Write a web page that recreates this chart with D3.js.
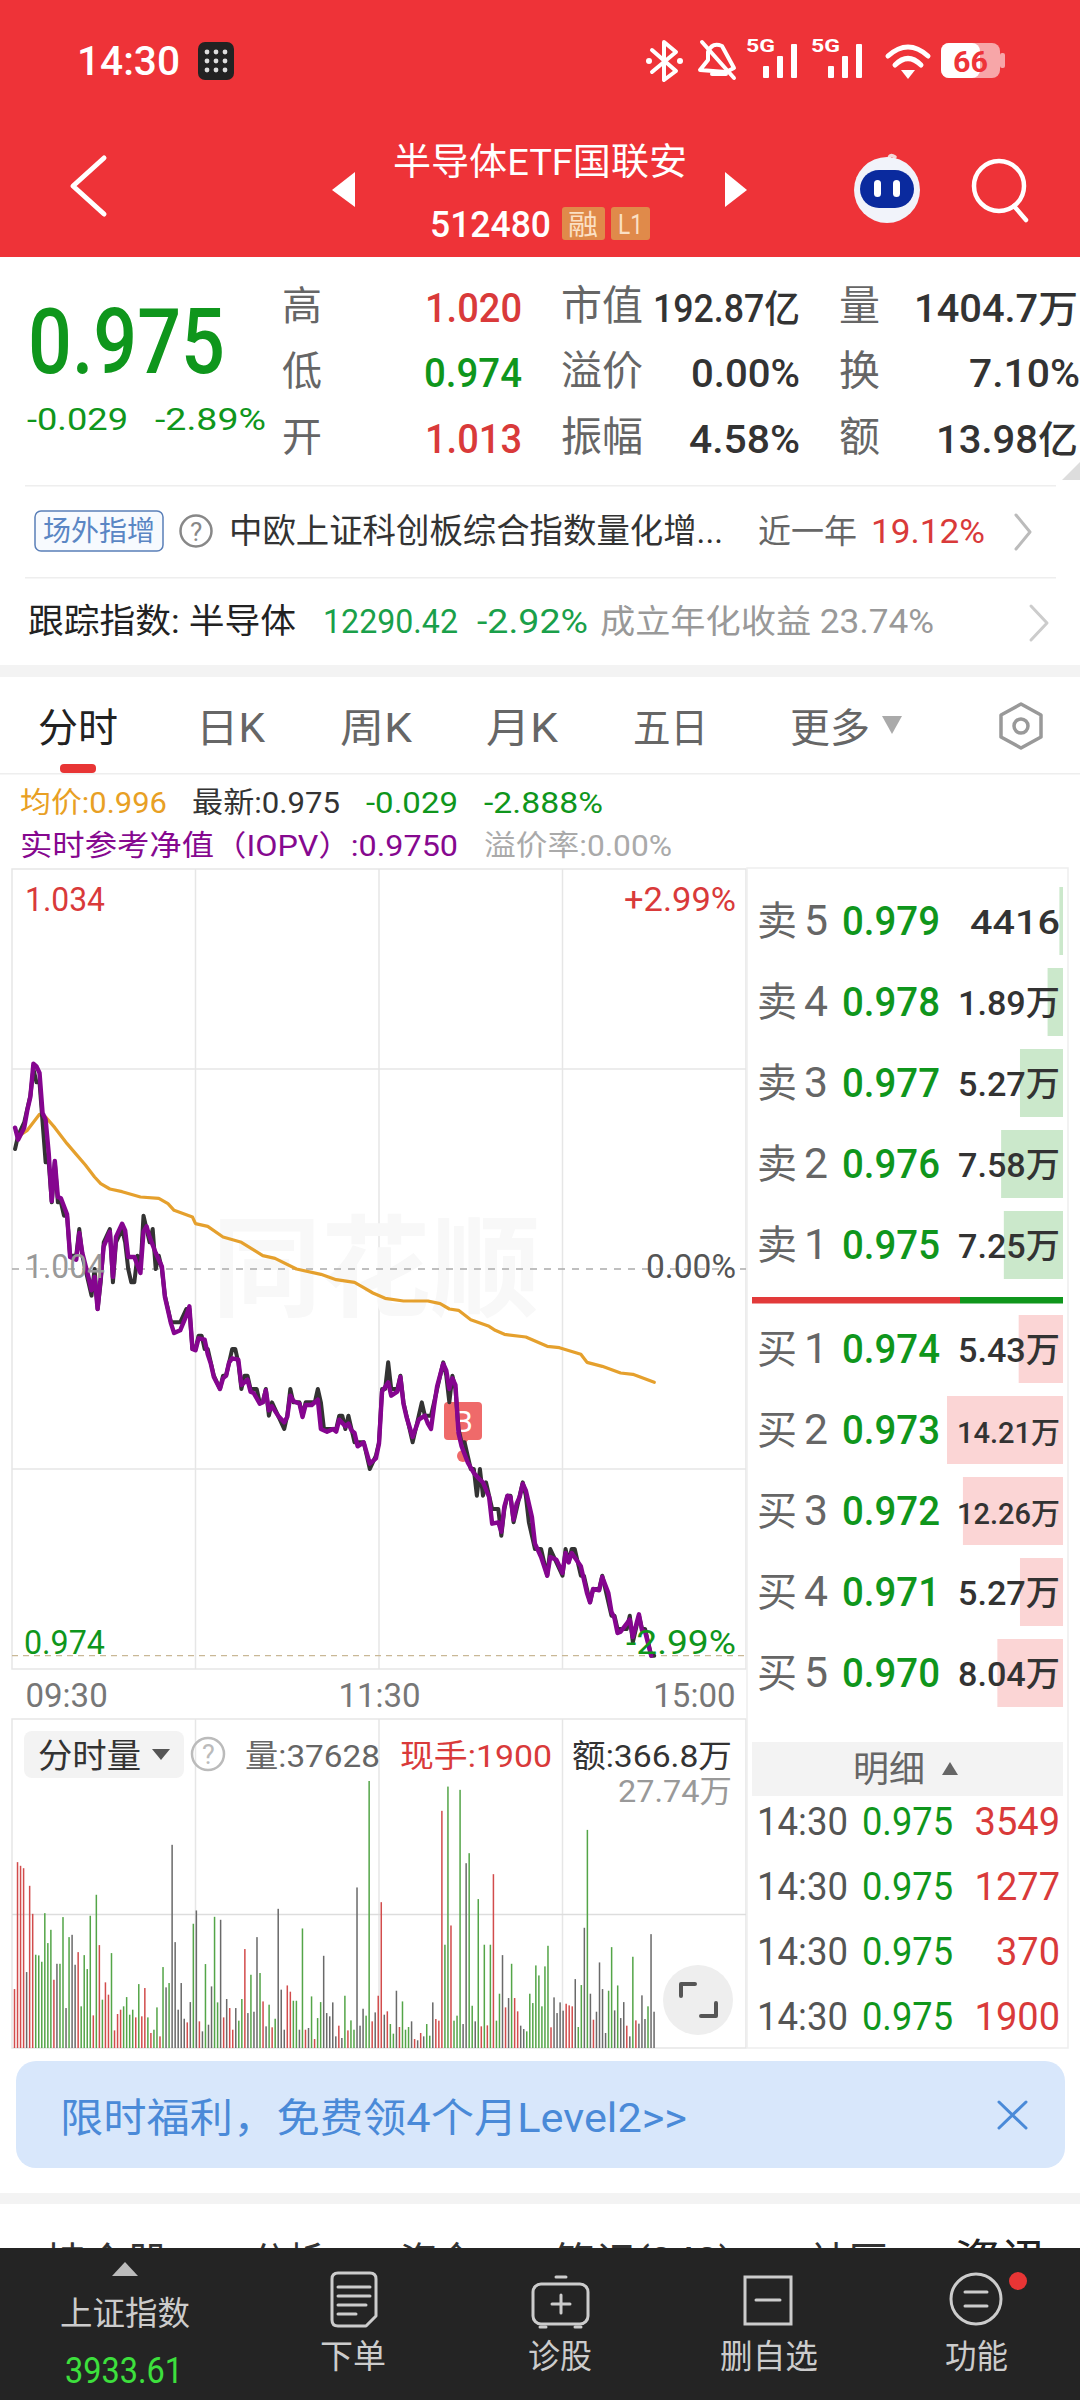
<!DOCTYPE html>
<html>
<head>
<meta charset="utf-8">
<script src="https://d3js.org/d3.v7.min.js"></script>
<style>
	html, body { margin: 0; padding: 0; background: #fff; }
	svg { display: block; }
	text { font-family: Roboto, "Noto Sans CJK SC", sans-serif; }
</style>
</head>
<body>
<svg id="chart" width="1080" height="2400"></svg>
<script>
// price line (minute since open, price)
const priceMin = [1,2,4,5,6,7,8,9,10,11,12,13,14,15,16,17,18,19,21,22,23,25,26,27,28,29,30,32,33,34,36,37,38,39,40,41,42,43,44,45,46,47,48,49,50,51,52,55,57,58,59,60,61,62,63,64,65,66,68,69,70,71,72,73,74,75,76,77,78,79,80,81,82,83,84,85,87,89,90,91,92,94,95,96,98,99,100,101,102,103,105,106,107,108,109,110,111,112,113,115,116,117,119,120,121,122,123,124,125,126,127,128,129,131,133,134,135,137,138,139,141,142,143,144,145,146,147,148,149,150,151,152,153,154,155,157,158,159,160,161,162,163,164,165,166,167,168,169,171,173,175,176,178,180,181,182,183,184,186,187,189,190,192,193,195,196,197,198,199,201,202,203,205,206,207,209,210];
const priceVal = [1.013,1.014,1.015,1.016,1.017,1.019,1.018,1.018,1.015,1.012,1.012,1.009,1.012,1.009,1.009,1.008,1.008,1.005,1.005,1.007,1.005,1.003,1.002,1.004,1.001,1.003,1.006,1.007,1.003,1.006,1.007,1.006,1.004,1.003,1.003,1.005,1.004,1.008,1.007,1.006,1.007,1.004,1.005,1.004,1.002,1.001,1.000,1.000,1.001,1.001,0.998,0.998,0.999,0.999,0.998,0.998,0.997,0.996,0.995,0.996,0.996,0.997,0.998,0.998,0.997,0.995,0.996,0.996,0.995,0.995,0.995,0.994,0.994,0.995,0.993,0.994,0.993,0.992,0.993,0.995,0.994,0.994,0.993,0.994,0.994,0.994,0.995,0.994,0.992,0.992,0.992,0.992,0.993,0.993,0.992,0.993,0.992,0.991,0.991,0.991,0.990,0.989,0.990,0.991,0.995,0.995,0.997,0.995,0.995,0.995,0.996,0.994,0.993,0.991,0.993,0.994,0.993,0.993,0.994,0.995,0.997,0.996,0.994,0.996,0.995,0.992,0.991,0.991,0.990,0.989,0.989,0.987,0.989,0.987,0.988,0.986,0.986,0.986,0.984,0.986,0.987,0.987,0.985,0.986,0.987,0.988,0.987,0.985,0.983,0.983,0.981,0.983,0.982,0.981,0.983,0.982,0.983,0.983,0.981,0.981,0.979,0.980,0.980,0.981,0.979,0.978,0.978,0.977,0.977,0.977,0.978,0.976,0.978,0.977,0.977,0.975,0.975];

// IOPV line
const iopvMin = [1,2,4,5,6,7,8,9,10,11,12,13,14,15,16,18,19,21,22,23,25,26,27,28,29,30,32,33,34,36,37,38,40,42,43,44,45,47,49,50,52,53,55,57,58,59,60,61,63,64,65,66,68,69,70,71,72,74,75,77,78,79,81,82,83,84,85,87,89,90,91,92,94,95,96,98,100,101,103,105,106,107,109,110,111,112,113,115,116,117,119,120,121,123,124,126,127,128,129,131,133,135,136,137,138,139,141,142,143,144,145,146,147,149,151,153,154,156,157,159,160,161,162,163,164,165,166,167,168,170,171,173,175,176,178,180,181,182,183,186,188,189,190,192,193,195,196,197,198,199,202,203,205,206,207,209];
const iopvVal = [1.0146,1.0137,1.0146,1.0159,1.0169,1.0194,1.0192,1.0187,1.0157,1.0152,1.0127,1.0091,1.0121,1.0094,1.0093,1.0081,1.0049,1.0047,1.0067,1.0052,1.0034,1.0024,1.0034,1.0010,1.0034,1.0057,1.0068,1.0034,1.0064,1.0074,1.0069,1.0049,1.0049,1.0037,1.0068,1.0072,1.0064,1.0052,1.0042,1.0019,0.9999,0.9992,0.9994,1.0005,1.0012,0.9980,0.9979,0.9988,0.9987,0.9976,0.9969,0.9959,0.9950,0.9958,0.9960,0.9970,0.9973,0.9972,0.9953,0.9957,0.9948,0.9947,0.9939,0.9940,0.9949,0.9934,0.9937,0.9930,0.9925,0.9929,0.9945,0.9941,0.9939,0.9929,0.9938,0.9938,0.9942,0.9920,0.9918,0.9920,0.9918,0.9927,0.9922,0.9924,0.9919,0.9917,0.9907,0.9910,0.9902,0.9894,0.9898,0.9909,0.9948,0.9955,0.9945,0.9948,0.9959,0.9939,0.9929,0.9914,0.9927,0.9930,0.9924,0.9920,0.9937,0.9952,0.9969,0.9964,0.9950,0.9958,0.9953,0.9917,0.9907,0.9895,0.9887,0.9882,0.9880,0.9869,0.9849,0.9850,0.9843,0.9862,0.9870,0.9869,0.9852,0.9864,0.9869,0.9879,0.9874,0.9854,0.9834,0.9824,0.9810,0.9824,0.9822,0.9812,0.9827,0.9820,0.9827,0.9817,0.9797,0.9790,0.9800,0.9799,0.9809,0.9797,0.9783,0.9778,0.9767,0.9768,0.9777,0.9764,0.9781,0.9769,0.9768,0.9750];

// average price line
const avgMin = [3,5,9,11,14,17,18,21,24,26,27,29,32,36,42,48,51,53,59,60,64,69,75,82,86,93,101,106,112,115,118,122,128,136,140,143,146,150,156,158,161,168,175,179,186,188,193,199,203,210];
const avgVal = [1.0141,1.0144,1.0156,1.0154,1.0146,1.0137,1.0134,1.0126,1.0118,1.0112,1.0109,1.0104,1.0100,1.0098,1.0094,1.0093,1.0089,1.0084,1.0079,1.0074,1.0072,1.0064,1.0060,1.0050,1.0048,1.0040,1.0036,1.0032,1.0030,1.0026,1.0022,1.0018,1.0016,1.0016,1.0014,1.0010,1.0009,1.0002,0.9997,0.9994,0.9991,0.9989,0.9982,0.9981,0.9976,0.9970,0.9967,0.9962,0.9961,0.9955];

// volume per minute, in 万
const volumes = [
	6.12,19.31,18.93,18.68,7.89,16.85,13.94,9.69,9.62,8.96,
	14.01,10.90,12.28,7.09,8.75,8.75,13.60,4.15,11.52,11.76,
	8.65,9.96,4.33,9.65,8.20,13.74,3.39,15.92,10.69,5.02,
	6.82,5.54,9.86,1.83,3.53,3.98,4.33,5.29,3.46,3.98,
	3.18,6.64,3.29,6.23,3.18,1.56,1.90,4.22,1.21,8.41,
	6.30,6.75,21.11,11.00,3.98,6.75,3.04,2.66,4.77,12.91,
	14.29,2.77,1.73,8.72,2.42,6.40,13.63,4.74,13.32,3.18,
	5.09,4.15,1.90,4.15,2.84,5.09,10.28,3.63,7.61,3.77,
	11.52,7.79,4.84,2.25,4.50,2.15,3.04,14.46,6.06,1.90,
	6.50,5.85,4.91,4.91,1.90,12.42,1.90,2.08,5.36,0.93,
	3.11,4.77,9.58,3.63,3.29,4.74,1.21,2.32,1.04,5.43,
	1.83,2.87,1.90,16.68,2.32,4.08,3.36,27.74,2.77,3.70,
	5.43,15.15,3.46,3.81,2.49,1.49,5.95,2.18,4.84,1.90,
	2.18,2.77,0.93,0.80,1.56,1.21,2.49,1.28,4.74,3.01,
	2.84,24.64,10.73,27.16,12.73,2.84,3.36,26.82,2.49,19.20,
	20.24,4.39,2.77,15.47,2.25,10.73,2.35,10.73,18.06,2.84,
	5.64,9.65,4.22,5.19,8.75,5.19,3.81,2.32,1.97,1.73,
	5.64,4.67,8.58,7.54,4.33,8.48,10.62,2.15,5.26,3.63,
	4.74,3.88,4.60,4.43,4.33,7.16,2.18,6.54,12.49,22.66,
	5.64,2.94,3.77,8.89,6.12,1.56,5.95,10.48,3.91,6.50,
	3.11,4.77,2.32,1.21,9.48,2.87,2.53,5.47,3.01,4.33,
	11.83,3.77
];
// u = up, d = down, f = flat, same order as volumes
const volumeDirs = (
	"uuuufuuddd"+"dddufddfdf"+"fuddddudud"+"uuduuudddd"+
	"uduududdud"+"fdfffffufd"+"fufdffddfu"+"fuufddufdf"+
	"fdufdudfff"+"uuddfdufdu"+"ddfffffufd"+"uddfffdduf"+
	"uufuddfudd"+"dfufufddfu"+"uuddudddff"+"ddfdududud"+
	"dfufduuffd"+"ddddddduff"+"ffuuufddfd"+"fuffffddfd"+
	"ffufdufffd"+"ff"
).split("");

const timeLabels = ["09:30","11:30","15:00"];
const timeTicks = [0,120,240];
const priceTicks = [1.034,1.019,1.004,0.989,0.974];
const lastPrice = 0.975;
const peakVolume = 27.74;

// order book
const levels = [5,4,3,2,1];
const askPrices = [0.979,0.978,0.977,0.976,0.975];
const askVols = [0.4416,1.89,5.27,7.58,7.25];
const askLabels = ["4416","1.89万","5.27万","7.58万","7.25万"];
const bidLevels = [1,2,3,4,5];
const bidPrices = [0.974,0.973,0.972,0.971,0.970];
const bidVols = [5.43,14.21,12.26,5.27,8.04];
const bidLabels = ["5.43万","14.21万","12.26万","5.27万","8.04万"];

const tradeVols = [3549,1277,370,1900];

const RED = "#d93a3a", GREEN = "#0f961c", GRID = "#e6e6e6";

const svg = d3.select("#chart");

const x = d3.scaleLinear().domain([0,240]).range([12,746]);
const xBar = d3.scaleLinear().domain([0,241]).range([14.5,745]);
const y = d3.scaleLinear().domain([0.974,1.034]).range([1669,869]);
const yVol = d3.scaleLinear().domain([0,peakVolume]).range([2048,1781]);
const bookW = d3.scaleLinear().domain([0,14.21]).range([0,116]);
const askY = d3.scaleLinear().domain([0,4]).range([921,1245]);
const bidY = d3.scaleLinear().domain([0,4]).range([1349,1673]);

// text helper. x1 start, x2 (optional) end the text is stretched to
function t(str, x1, x2, base, size, fill, opts) {
	opts = opts || {};
	var n = svg.append("text").attr("x",x1).attr("y",base)
		.attr("font-size",size).attr("fill",fill).text(str);
	if(opts.weight) n.attr("font-weight",opts.weight);
	if(opts.anchor) n.attr("text-anchor",opts.anchor);
	if(x2 != null) n.attr("textLength",x2-x1).attr("lengthAdjust","spacingAndGlyphs");
	return n;
}
function rect(x1,y1,x2,y2,fill,r) {
	return svg.append("rect").attr("x",x1).attr("y",y1).attr("width",x2-x1).attr("height",y2-y1)
		.attr("fill",fill).attr("rx",r||0);
}
function path(d,stroke,w,fill) {
	return svg.append("path").attr("d",d).attr("stroke",stroke||"none").attr("stroke-width",w||0)
		.attr("fill",fill||"none").attr("stroke-linecap","round").attr("stroke-linejoin","round");
}

///////////////////////////
// Red header
///////////////////////////
rect(0,0,1080,257,"#ee3338");
t("14:30",77,180,75,41,"#fff",{weight:500});
rect(198,42,234,80,"#222",7);
[0,1,2].forEach(function(i){ [0,1,2].forEach(function(j){
	svg.append("circle").attr("cx",207+j*9).attr("cy",52+i*9).attr("r",2.4).attr("fill","#ddd");
}); });
// bluetooth
path("M652 50 L676 71 L664 80 L664 42 L676 52 L652 72","#fff",4);
svg.append("circle").attr("cx",649).attr("cy",61).attr("r",3).attr("fill","#fff");
svg.append("circle").attr("cx",680).attr("cy",61).attr("r",3).attr("fill","#fff");
// muted bell
path("M700 70 L708 60 L708 52 Q712 42 722 46 L734 68 L726 72 Z","#fff",4);
path("M702 42 L734 78","#fff",4);
path("M712 74 L726 74","#fff",4);
// 5G signal x2
[[746,0],[811,0]].forEach(function(o){
	t("5G",o[0],o[0]+29,52,19,"#fff",{weight:700});
	[0,1,2].forEach(function(i){
		rect(o[0]+17+i*14,[66,56,44][i],o[0]+23+i*14,78,"#fff",1);
	});
});
// wifi
path("M888 56 Q908 38 928 56","#fff",5);
path("M895 65 Q908 52 921 65","#fff",5);
svg.append("path").attr("d","M901 70 L915 70 L908 79 Z").attr("fill","#fff");
// battery
rect(941,43,1000,78,"#f7a6a8",8);
rect(941,43,980,78,"#fff",8);
rect(1000,53,1005,68,"#f7a6a8",2);
t("66",953,988,72,30,"#ee3338",{weight:700});

path("M104 158 L73 186 L104 214","#fff",5);
svg.append("path").attr("d","M355 172 L332 190 L355 207 Z").attr("fill","#fff");
svg.append("path").attr("d","M725 172 L747 190 L725 207 Z").attr("fill","#fff");
t("半导体ETF国联安",393,687,175,37,"#fff");
t("512480",430,551,237,36,"#fff",{weight:500});
rect(562,207,605,240,"#e08a4a",3);
t("融",568,598,235,28,"#fbe0c4");
rect(611,207,650,240,"#e08a4a",3);
t("L1",618,643,234,28,"#fbe0c4");
// robot
path("M889 160 Q889 153 895 157","#f3d9d9",3.5);
svg.append("circle").attr("cx",887).attr("cy",190).attr("r",33).attr("fill","#f1f3fa");
rect(860,170,914,208,"#0a2a9e",19);
rect(874,180,881,197,"#fff",3.5);
rect(893,180,900,197,"#fff",3.5);
// search
svg.append("circle").attr("cx",999).attr("cy",186).attr("r",25).attr("fill","none").attr("stroke","#fff").attr("stroke-width",4.5);
path("M1014 206 L1026 220","#fff",4.5);

///////////////////////////
// Quote summary
///////////////////////////
t("0.975",28,225,373,90,GREEN,{weight:500});
t("-0.029",27,128,430,31,GREEN);
t("-2.89%",155,266,430,31,GREEN);
var sumRows = [320,385,451];
["高","低","开"].forEach(function(s,i){ t(s,282,null,sumRows[i],40,"#666"); });
t("1.020",425,522,322,40,RED,{weight:500});
t("0.974",424,522,387,40,GREEN,{weight:500});
t("1.013",425,522,453,40,RED,{weight:500});
["市值","溢价","振幅"].forEach(function(s,i){ t(s,561,null,sumRows[i],41,"#666"); });
t("192.87亿",653,800,322,38,"#333",{weight:500});
t("0.00%",691,800,387,38,"#333",{weight:500});
t("4.58%",689,800,453,38,"#333",{weight:500});
["量","换","额"].forEach(function(s,i){ t(s,839,null,sumRows[i],41,"#666"); });
t("1404.7万",914,1078,322,38,"#333",{weight:500});
t("7.10%",969,1080,387,38,"#333",{weight:500});
t("13.98亿",936,1078,453,38,"#333",{weight:500});
svg.append("path").attr("d","M1080 462 L1080 480 L1062 480 Z").attr("fill","#ddd");

rect(25,485,1056,486.5,"#eee");
svg.append("rect").attr("x",35).attr("y",511).attr("width",128).attr("height",40).attr("rx",6)
	.attr("fill","#f7fafe").attr("stroke","#5a7fb8").attr("stroke-width",1.5);
t("场外指增",43,155,541,28,"#5a86c4");
svg.append("circle").attr("cx",196).attr("cy",531).attr("r",15.5).attr("fill","none").attr("stroke","#888").attr("stroke-width",2.5);
t("?",190,null,541,26,"#888");
t("中欧上证科创板综合指数量化增...",229,723,543,34,"#333");
t("近一年",758,857,543,33,"#666");
t("19.12%",871,985,543,34,RED);
path("M1016 515 L1030 532 L1016 549","#bbb",3);

rect(25,577,1056,578.5,"#eee");
t("跟踪指数: 半导体",28,296,633,34,"#222");
t("12290.42",323,458,633,33,"#1aa04a");
t("-2.92%",477,588,633,33,"#1aa04a");
t("成立年化收益 23.74%",600,934,633,33,"#999");
path("M1031 606 L1047 623 L1031 640","#ccc",3);
rect(0,665,1080,677,"#f3f3f3");

///////////////////////////
// Tabs
///////////////////////////
t("分时",38,118,742,40,"#222");
t("日K",196,265,742,40,"#666");
t("周K",340,412,742,40,"#666");
t("月K",486,558,742,40,"#666");
t("五日",633,708,742,40,"#666");
t("更多",790,870,742,40,"#666");
svg.append("path").attr("d","M882 716 L902 716 L892 734 Z").attr("fill","#aaa");
path("M1021 704 L1041 715 L1041 737 L1021 748 L1001 737 L1001 715 Z","#999",3.5);
svg.append("circle").attr("cx",1021).attr("cy",726).attr("r",7).attr("fill","none").attr("stroke","#999").attr("stroke-width",3.5);
rect(60,764,96,773,"#e83535",4);
rect(0,773,1080,774.5,"#eee");

t("均价:0.996",20,167,813,29,"#e8a024");
t("最新:0.975",192,340,813,29,"#333");
t("-0.029",366,458,813,29,GREEN);
t("-2.888%",484,603,813,29,GREEN);
t("实时参考净值（IOPV）:0.9750",20,458,856,29,"#86088f");
t("溢价率:0.00%",484,672,856,29,"#aaa");

///////////////////////////
// Price panel
///////////////////////////
var frame = svg.append("g").attr("fill","none").attr("stroke",GRID).attr("stroke-width",1.5);
frame.append("rect").attr("x",x(0)).attr("y",y(1.034)).attr("width",x(240)-x(0)).attr("height",y(0.974)-y(1.034));
frame.selectAll("line.v").data([60,120,180]).enter().append("line")
	.attr("x1",d=>x(d)).attr("x2",d=>x(d)).attr("y1",y(1.034)).attr("y2",y(0.974));
frame.selectAll("line.h").data([priceTicks[1],priceTicks[3]]).enter().append("line")
	.attr("x1",x(0)).attr("x2",x(240)).attr("y1",d=>y(d)).attr("y2",d=>y(d));

t("同花顺",212,540,1308,110,"#f8f8f8",{weight:700});

svg.append("line").attr("x1",x(0)).attr("x2",x(240)).attr("y1",y(1.004)).attr("y2",y(1.004))
	.attr("stroke","#aaa").attr("stroke-width",1.5).attr("stroke-dasharray","7 7");
svg.append("line").attr("x1",x(0)).attr("x2",x(240)).attr("y1",y(lastPrice)).attr("y2",y(lastPrice))
	.attr("stroke","#c9b896").attr("stroke-width",1.2).attr("stroke-dasharray","6 5");

// B marker sits under the lines
rect(444,1402,482,1440,"#ef6a6a",4);
svg.append("path").attr("d","M458 1440 L468 1440 L463 1447 Z").attr("fill","#ef6a6a");
svg.append("circle").attr("cx",463).attr("cy",1456).attr("r",6).attr("fill","#ef6a6a");
t("B",454,null,1432,30,"#fff");

var toLine = d3.line().x(d=>x(d[0])).y(d=>y(d[1]));
function drawLine(mins,vals,color,width) {
	svg.append("path").datum(d3.zip(mins,vals)).attr("d",toLine)
		.attr("fill","none").attr("stroke",color).attr("stroke-width",width)
		.attr("stroke-linejoin","round").attr("stroke-linecap","round");
}
drawLine(avgMin,avgVal,"#e5a02d",3.2);
drawLine(priceMin,priceVal,"#333333",4);
drawLine(iopvMin,iopvVal,"#85058f",4.4);

t("1.034",25,105,y(priceTicks[0])+42,34,RED);
t("+2.99%",624,736,y(priceTicks[0])+42,34,RED);
t("1.004",25,105,y(priceTicks[2])+9,34,"#999");
t("0.00%",646,736,y(priceTicks[2])+9,34,"#555");
t("0.974",24,105,y(priceTicks[4])-15,34,GREEN);
t("-2.99%",626,736,y(priceTicks[4])-15,34,GREEN);

// time axis
var axis = svg.append("g").attr("transform","translate(0,"+y(0.974)+")")
	.call(d3.axisBottom(x).tickValues(timeTicks).tickFormat((d,i)=>timeLabels[i]).tickSize(0).tickPadding(11));
axis.select(".domain").remove();
axis.selectAll("text").attr("font-size",33).attr("fill","#777").attr("font-family",'Roboto, "Noto Sans CJK SC"')
	.attr("dy",null)
	.attr("text-anchor",(d,i)=>["start","middle","end"][i])
	.attr("dx",(d,i)=>[13,0,-11][i])
	.attr("y",38);

///////////////////////////
// Volume panel
///////////////////////////
var frame2 = svg.append("g").attr("fill","none").attr("stroke",GRID).attr("stroke-width",1.5);
frame2.append("rect").attr("x",x(0)).attr("y",1719).attr("width",x(240)-x(0)).attr("height",yVol(0)-1719);
frame2.selectAll("line.v").data([60,120,180]).enter().append("line")
	.attr("x1",d=>x(d)).attr("x2",d=>x(d)).attr("y1",1719).attr("y2",yVol(0));
frame2.append("line").attr("x1",x(0)).attr("x2",x(240)).attr("y1",yVol(peakVolume/2)).attr("y2",yVol(peakVolume/2)).attr("stroke","#ddd");

var volColor = {u:"#d24c4c",d:"#54a548",f:"#6a6a6a"};
svg.append("g").selectAll("rect").data(volumes).enter().append("rect")
	.attr("x",(d,i)=>xBar(i)-0.75).attr("width",1.5)
	.attr("y",d=>yVol(d)).attr("height",d=>yVol(0)-yVol(d))
	.attr("fill",(d,i)=>volColor[volumeDirs[i]]);

rect(24,1731,184,1778,"#f3f3f3",8);
t("分时量",38,141,1768,34,"#333");
svg.append("path").attr("d","M152 1749 L170 1749 L161 1760 Z").attr("fill","#555");
svg.append("circle").attr("cx",208).attr("cy",1754).attr("r",16).attr("fill","none").attr("stroke","#bbb").attr("stroke-width",2.5);
t("?",202,null,1764,27,"#bbb");
t("量:37628",245,380,1767,32,"#666");
t("现手:1900",400,552,1767,32,RED);
t("额:366.8万",572,732,1767,32,"#333");
t("27.74万",618,732,1802,31,"#999");

svg.append("circle").attr("cx",698).attr("cy",2000).attr("r",35).attr("fill","#eee");
path("M681 1996 L681 1984 L695 1984","#555",4);
path("M716 2003 L716 2016 L701 2016","#555",4);

///////////////////////////
// Order book
///////////////////////////
svg.append("g").attr("fill","none").attr("stroke","#eee").attr("stroke-width",1.5)
	.append("path").attr("d","M747 868 L1068 868 L1068 2048 L747 2048 Z");

function bookRows(rowY,names,nums,prices,vols,labels,barColor) {
	prices.forEach(function(p,i){
		var cy = rowY(i);
		rect(1063-bookW(vols[i]),cy-34,1063,cy+34,barColor);
		t(names,757,797,cy+14,40,"#666");
		t(nums[i],804,828,cy+14,42,"#666");
		t(p.toFixed(3),842,940,cy+14,40,GREEN,{weight:500});
		var lab = labels[i];
		var left = lab.length > 5 ? 957 : (lab.length == 4 ? 970 : 958);
		t(lab,left,1060,cy+13,lab.length > 5 ? 30 : 34,"#333",{weight:500});
	});
}
bookRows(askY,"卖",levels,askPrices,askVols,askLabels,"#cbe8cb");
rect(752,1297,960,1303.5,"#e23a3a");
rect(960,1297,1063,1303.5,"#0f961c");
bookRows(bidY,"买",bidLevels,bidPrices,bidVols,bidLabels,"#fbd5d5");

rect(752,1742,1063,1796,"#f3f3f3");
t("明细",853,925,1782,36,"#666");
svg.append("path").attr("d","M950 1762 L958 1775 L942 1775 Z").attr("fill","#666");
tradeVols.forEach(function(v,i){
	var base = 1835+i*65;
	t("14:30",757,848,base,38,"#555");
	t("0.975",862,953,base,38,GREEN);
	t(v,1060,null,base,38,RED,{anchor:"end"});
});

///////////////////////////
// Banner and bottom bar
///////////////////////////
rect(16,2061,1065,2168,"#d8e7fb",20);
t("限时福利，免费领4个月Level2>>",60,687,2132,40,"#4a8ad8");
path("M999 2102 L1026 2128 M1026 2102 L999 2128","#4a8ad8",3);
rect(0,2193,1080,2204,"#f3f3f3");

// tab row clipped by the dark bar
t("持仓股",45,169,2276,40,"#333");
t("分析",251,324,2276,40,"#333");
t("资金",400,475,2276,40,"#333");
t("笔记(242)",554,733,2276,40,"#333");
t("社区",809,888,2276,40,"#333");
t("资讯",954,1047,2276,44,"#222");

rect(0,2248,1080,2400,"#242424");
svg.append("path").attr("d","M125 2262 L138 2276 L112 2276 Z").attr("fill","#bbb");
t("上证指数",60,190,2325,33,"#ccc");
t("3933.61",65,183,2383,36,"#3de03d");
t("下单",320,386,2368,33,"#ccc");
t("诊股",528,592,2368,33,"#ccc");
t("删自选",720,818,2368,33,"#ccc");
t("功能",945,1008,2368,33,"#ccc");
path("M332 2279 Q332 2273 338 2273 L370 2273 Q376 2273 376 2279 L376 2316 L366 2326 L338 2326 Q332 2326 332 2320 Z","#ccc",3);
path("M338 2287 L370 2287 M338 2296 L370 2296 M338 2305 L366 2305 M338 2314 L356 2314","#ccc",3);
path("M556 2277 L566 2277","#ccc",3);
svg.append("rect").attr("x",533).attr("y",2284).attr("width",55).attr("height",40).attr("rx",8).attr("fill","none").attr("stroke","#ccc").attr("stroke-width",3);
path("M561 2295 L561 2313 M552 2304 L570 2304","#ccc",3);
path("M540 2327 L546 2327 M575 2327 L581 2327","#ccc",3);
svg.append("rect").attr("x",745).attr("y",2277).attr("width",46).attr("height",47).attr("fill","none").attr("stroke","#ccc").attr("stroke-width",3);
path("M756 2300 L780 2300","#ccc",3);
svg.append("circle").attr("cx",976).attr("cy",2299).attr("r",25).attr("fill","none").attr("stroke","#ccc").attr("stroke-width",3);
path("M965 2292 L987 2292 M965 2306 L987 2306","#ccc",3);
svg.append("circle").attr("cx",1018).attr("cy",2281).attr("r",9).attr("fill","#e83535");
</script>
</body>
</html>
